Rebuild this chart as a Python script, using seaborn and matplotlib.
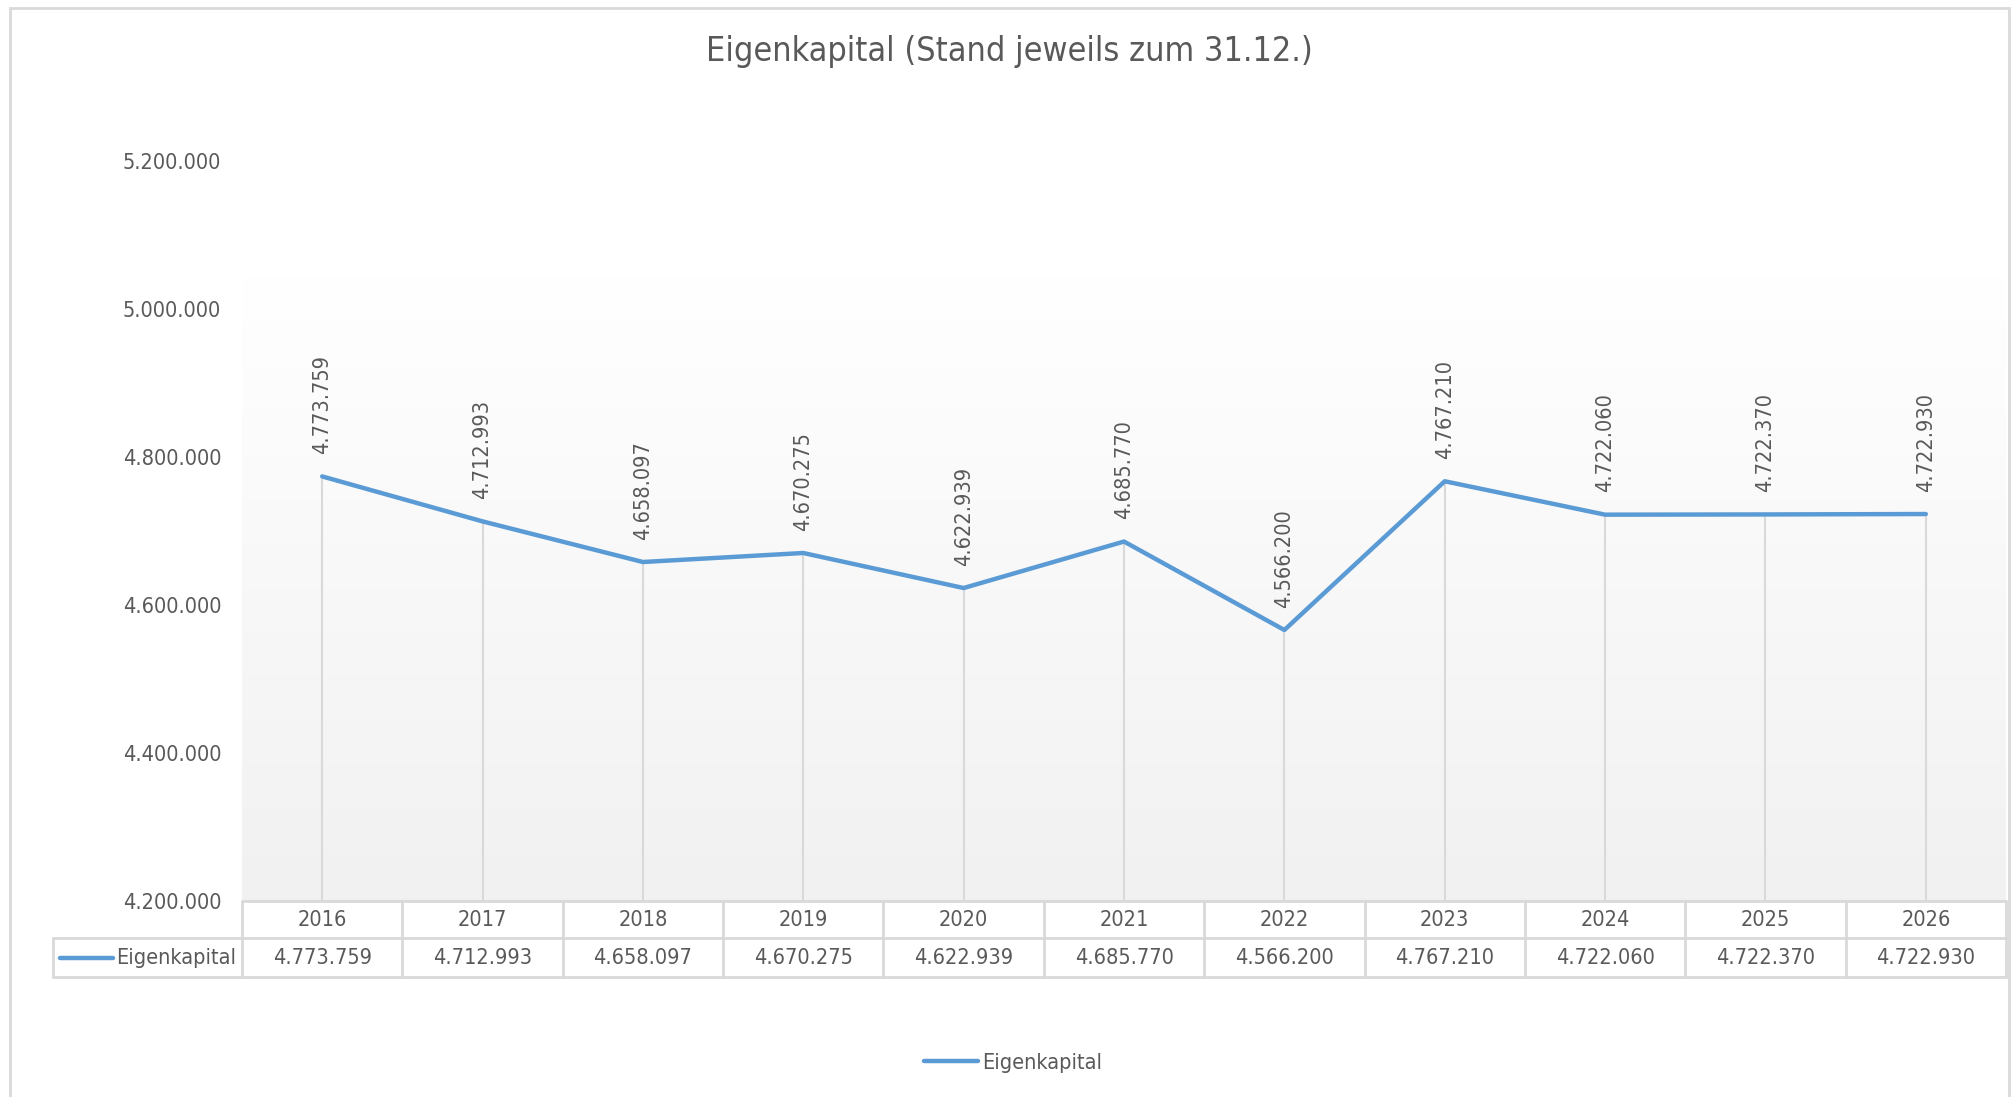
import numpy as np
import pandas as pd
import matplotlib
matplotlib.use("Agg")
import matplotlib.pyplot as plt
import matplotlib.transforms as mtransforms
from matplotlib.patches import Rectangle
from matplotlib.ticker import FuncFormatter
from matplotlib import font_manager
import seaborn as sns

# data
jahre = [2016, 2017, 2018, 2019, 2020, 2021, 2022, 2023, 2024, 2025, 2026]
eigenkapital = [4773759, 4712993, 4658097, 4670275, 4622939, 4685770,
                4566200, 4767210, 4722060, 4722370, 4722930]
serie = "Eigenkapital"
titel = "Eigenkapital (Stand jeweils zum 31.12.)"
y_ticks = [4200000, 4400000, 4600000, 4800000, 5000000, 5200000]

df = pd.DataFrame({"Jahr": jahre, serie: eigenkapital})

LINE = "#5B9BD5"
TXT = "#595959"
GRID = "#D9D9D9"


def de(v):
    return f"{v:,.0f}".replace(",", ".")


sns.set_style("white")
fonts = font_manager.fontManager.ttflist
names = {f.name for f in fonts}
stretch = "normal"
if "Liberation Sans Narrow" in names:
    fam = "Liberation Sans Narrow"
else:
    fam = "DejaVu Sans"
    if any(f.name == "DejaVu Sans" and f.stretch == "condensed" for f in fonts):
        stretch = "condensed"
plt.rcParams["font.family"] = [fam, "DejaVu Sans"]
plt.rcParams["font.stretch"] = stretch

W, H = 2015, 1097
fig = plt.figure(figsize=(W / 100, H / 100), dpi=100)
fig.patch.set_facecolor("white")
renderer = fig.canvas.get_renderer()


def fit(text, target_px, size=20):
    # font size that makes the text about target_px wide
    t = fig.text(0, 0, text, fontsize=size, fontstretch=stretch)
    w = t.get_window_extent(renderer).width
    t.remove()
    return size * target_px / w


FS = fit("4.773.759", 99)
FT = fit(titel, 607)

left, right, top, bottom = 242, 2006, 161, 901
ax = fig.add_axes([left / W, 1 - bottom / H, (right - left) / W, (bottom - top) / H])
ax.set_facecolor("white")

# gradient plot area background
grad = np.concatenate([np.ones(40), np.linspace(1.0, 0.945, 216)])
img = np.dstack([grad, grad, grad]).reshape(256, 1, 3)
ax.imshow(img, extent=[0, 1, 0, 1], transform=ax.transAxes, aspect="auto", zorder=0)

ax.vlines(df["Jahr"], ymin=y_ticks[0], ymax=df[serie], color=GRID, lw=1.5, zorder=1)
sns.lineplot(data=df, x="Jahr", y=serie, color=LINE, linewidth=3.2, ax=ax,
             label=serie, zorder=3, legend=False)

for x, v in zip(df["Jahr"], df[serie]):
    ax.annotate(de(v), (x, v), xytext=(0, 16), textcoords="offset points",
                rotation=90, ha="center", va="bottom", fontsize=FS, color=TXT)

ax.set_xlim(jahre[0] - 0.5, jahre[-1] + 0.5)
ax.set_ylim(y_ticks[0], y_ticks[-1])
ax.set_yticks(y_ticks)
ax.yaxis.set_major_formatter(FuncFormatter(lambda v, _: de(v)))
ax.tick_params(axis="y", length=0, pad=15, labelsize=FS, labelcolor=TXT)
ax.set_xticks([])
ax.set_xlabel("")
ax.set_ylabel("")
for s in ax.spines.values():
    s.set_visible(False)

# data table below the plot
h1 = 37 / (bottom - top)
h2 = 76 / (bottom - top)
lx0 = (53 - left) / (right - left)
bt = mtransforms.blended_transform_factory(ax.transData, ax.transAxes)
at = ax.transAxes
kw = dict(color=GRID, lw=2, clip_on=False, zorder=5)
x0, x1 = jahre[0] - 0.5, jahre[-1] + 0.5
ax.plot([x0, x1], [0, 0], transform=bt, **kw)
ax.plot([lx0, 1], [-h1, -h1], transform=at, **kw)
ax.plot([lx0, 1], [-h2, -h2], transform=at, **kw)
ax.plot([lx0, lx0], [-h1, -h2], transform=at, **kw)
for j in jahre + [jahre[-1] + 1]:
    ax.plot([j - 0.5, j - 0.5], [0, -h2], transform=bt, **kw)
for j, v in zip(jahre, eigenkapital):
    ax.text(j, -h1 / 2, str(j), transform=bt, ha="center", va="center",
            fontsize=FS, color=TXT, clip_on=False)
    ax.text(j, -(h1 + h2) / 2, de(v), transform=bt, ha="center", va="center",
            fontsize=FS, color=TXT, clip_on=False)
ax.plot([(60 - left) / (right - left), (113 - left) / (right - left)],
        [-(h1 + h2) / 2] * 2, transform=at, color=LINE, lw=3.2,
        clip_on=False, solid_capstyle="round", zorder=6)
ax.text((116 - left) / (right - left), -(h1 + h2) / 2, serie, transform=at,
        ha="left", va="center", fontsize=FS, color=TXT, clip_on=False)

# legend
handles, labels = ax.get_legend_handles_labels()
fig.legend(handles, labels, loc="center", bbox_to_anchor=(1013 / W, 1 - 1063 / H),
           frameon=False, fontsize=FS, labelcolor=TXT, handlelength=54 * 0.72 / FS,
           handletextpad=0.2)

fig.text(1009 / W, 1 - 51 / H, titel, ha="center", va="center", fontsize=FT,
         color=TXT)

# outer chart border
fig.add_artist(Rectangle((10 / W, -0.02), (2009 - 10) / W, 1.02 - 8 / H,
                         transform=fig.transFigure, fill=False,
                         edgecolor=GRID, lw=2))

fig.savefig("out.png", dpi=100)
